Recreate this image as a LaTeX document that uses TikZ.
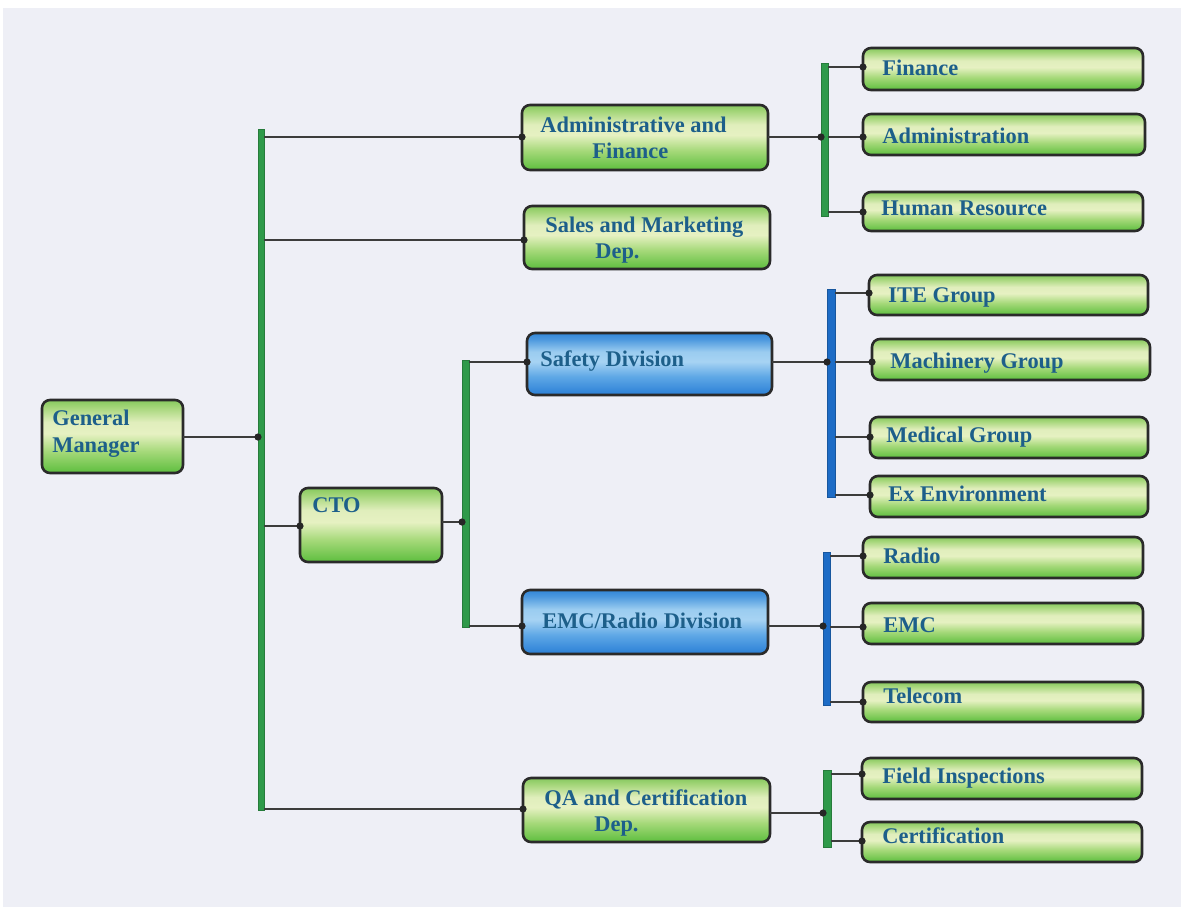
\documentclass[tikz,border=0pt]{standalone}
\usepackage{fontspec}
\setmainfont{Liberation Serif}
\usetikzlibrary{calc}
\definecolor{bgc}{HTML}{EEEFF6}
\definecolor{txtc}{HTML}{1D5F8A}
\definecolor{edgec}{HTML}{2A2A2A}
\definecolor{connc}{HTML}{3C3C3C}
\definecolor{gbarc}{HTML}{2F9A4A}
\definecolor{bbarc}{HTML}{1D6CC6}
\definecolor{gB}{HTML}{5DBE3E}
\definecolor{gM1}{HTML}{A6D97A}
\definecolor{gL}{HTML}{E6F1C2}
\definecolor{gL2}{HTML}{E0EEBC}
\definecolor{gM2}{HTML}{A5D67A}
\definecolor{gT}{HTML}{86C85E}
\definecolor{bB}{HTML}{2A7FD6}
\definecolor{bM1}{HTML}{5FA8E6}
\definecolor{bL}{HTML}{A7D3F3}
\definecolor{bL2}{HTML}{9ACCF0}
\definecolor{bM2}{HTML}{4C98DE}
\definecolor{bT}{HTML}{3286D8}
\pgfdeclareverticalshading{gshade}{100bp}{color(0bp)=(gB); color(25bp)=(gB); color(40bp)=(gM1); color(52bp)=(gL); color(60bp)=(gL2); color(70bp)=(gM2); color(75bp)=(gT); color(100bp)=(gT)}
\pgfdeclareverticalshading{bshade}{100bp}{color(0bp)=(bB); color(25bp)=(bB); color(40bp)=(bM1); color(52bp)=(bL); color(60bp)=(bL2); color(70bp)=(bM2); color(75bp)=(bT); color(100bp)=(bT)}
\tikzset{
  gbox/.style={draw=edgec, line width=1.3pt, rounded corners=4pt, shading=gshade, inner sep=0pt, outer sep=0pt},
  bbox/.style={draw=edgec, line width=1.3pt, rounded corners=4pt, shading=bshade, inner sep=0pt, outer sep=0pt},
  gbar/.style={fill=gbarc, draw=gbarc!80!black, line width=0.3pt, inner sep=0pt, outer sep=0pt},
  bbar/.style={fill=bbarc, draw=bbarc!80!black, line width=0.3pt, inner sep=0pt, outer sep=0pt},
  txt/.style={text=txtc, font=\fontsize{11.2}{13}\selectfont\bfseries, inner sep=0pt, anchor=base west},
  conn/.style={draw=connc, line width=0.75pt},
  dotc/.style={fill=black!85}
}
\newcommand\bx[6]{\node[#6, minimum width={(#4-#2)*0.5pt}, minimum height={(#5-#3)*0.5pt}] (#1) at ({(#2+#4)/2},{(#3+#5)/2}) {};}
\newcommand\tx[4]{\node[txt] (#1) at (#2,#3) {#4};}
\newcommand\cn[3]{\draw[conn] (#1 |- 0,#3) -- (#2 |- 0,#3);}
\newcommand\dt[2]{\fill[dotc] (#1 |- 0,#2) circle (1.8pt);}
\begin{document}
\begin{tikzpicture}[x=0.5pt, y=-0.5pt]
\useasboundingbox (0,0) rectangle (1181,907);
\fill[white] (0,0) rectangle (1181,907);
\fill[bgc] (3,8) rectangle (1181,907);

% bars
\bx{mainbar}{258}{129}{264}{810}{gbar}
\bx{ctobar}{462}{360}{469}{627}{gbar}
\bx{adminbar}{821}{63}{828}{216}{gbar}
\bx{safbar}{827}{289}{835}{497}{bbar}
\bx{emcbar}{823}{552}{830}{705}{bbar}
\bx{qabar}{823}{770}{831}{847}{gbar}

% boxes
\bx{gm}{42}{400}{183}{473}{gbox}
\bx{cto}{300}{488}{442}{562}{gbox}
\bx{adm}{522}{105}{768}{170}{gbox}
\bx{sales}{524}{206}{770}{269}{gbox}
\bx{saf}{527}{333}{772}{395}{bbox}
\bx{emc}{522}{590}{768}{654}{bbox}
\bx{qa}{523}{778}{770}{842}{gbox}
\bx{fin}{863}{48}{1143}{90}{gbox}
\bx{adn}{863}{114}{1145}{155}{gbox}
\bx{hr}{863}{192}{1143}{231}{gbox}
\bx{ite}{869}{275}{1148}{315}{gbox}
\bx{mach}{872}{339}{1150}{380}{gbox}
\bx{med}{870}{417}{1148}{458}{gbox}
\bx{ex}{870}{476}{1148}{517}{gbox}
\bx{radio}{863}{537}{1143}{578}{gbox}
\bx{emcg}{863}{603}{1143}{644}{gbox}
\bx{tele}{863}{682}{1143}{722}{gbox}
\bx{fi}{862}{758}{1142}{799}{gbox}
\bx{cert}{862}{822}{1142}{862}{gbox}

% texts
\tx{gm-t1}{52}{425}{General}
\tx{gm-t2}{52}{452}{Manager}
\tx{cto-t}{312}{512}{CTO}
\tx{adm-t1}{540}{132}{Administrative and}
\tx{adm-t2}{592}{158}{Finance}
\tx{sales-t1}{545}{232}{Sales and Marketing}
\tx{sales-t2}{595}{258}{Dep.}
\tx{saf-t}{540}{366}{Safety Division}
\tx{emc-t}{542}{628}{EMC/Radio Division}
\tx{qa-t1}{544}{805}{QA and Certification}
\tx{qa-t2}{594}{831}{Dep.}
\tx{fin-t}{882}{75}{Finance}
\tx{adn-t}{882}{143}{Administration}
\tx{hr-t}{881}{215}{Human Resource}
\tx{ite-t}{888}{302}{ITE Group}
\tx{mach-t}{890}{368}{Machinery Group}
\tx{med-t}{886}{442}{Medical Group}
\tx{ex-t}{888}{501}{Ex Environment}
\tx{radio-t}{883}{563}{Radio}
\tx{emcg-t}{883}{632}{EMC}
\tx{tele-t}{883}{703}{Telecom}
\tx{fi-t}{882}{783}{Field Inspections}
\tx{cert-t}{882}{843}{Certification}

% connectors
\cn{gm.east}{mainbar.west}{437}
\cn{mainbar.east}{adm.west}{137}
\cn{mainbar.east}{sales.west}{240}
\cn{mainbar.east}{cto.west}{526}
\cn{mainbar.east}{qa.west}{809}
\cn{cto.east}{ctobar.west}{522}
\cn{ctobar.east}{saf.west}{362}
\cn{ctobar.east}{emc.west}{626}
\cn{adm.east}{adminbar.west}{137}
\cn{adminbar.east}{fin.west}{67}
\cn{adminbar.east}{adn.west}{137}
\cn{adminbar.east}{hr.west}{212}
\cn{saf.east}{safbar.west}{362}
\cn{safbar.east}{ite.west}{293}
\cn{safbar.east}{mach.west}{362}
\cn{safbar.east}{med.west}{437}
\cn{safbar.east}{ex.west}{495}
\cn{emc.east}{emcbar.west}{626}
\cn{emcbar.east}{radio.west}{556}
\cn{emcbar.east}{emcg.west}{627}
\cn{emcbar.east}{tele.west}{702}
\cn{qa.east}{qabar.west}{813}
\cn{qabar.east}{fi.west}{774}
\cn{qabar.east}{cert.west}{841}

% dots
\dt{mainbar.west}{437}
\dt{adm.west}{137}
\dt{sales.west}{240}
\dt{cto.west}{526}
\dt{qa.west}{809}
\dt{ctobar.west}{522}
\dt{saf.west}{362}
\dt{emc.west}{626}
\dt{adminbar.west}{137}
\dt{fin.west}{67}
\dt{adn.west}{137}
\dt{hr.west}{212}
\dt{safbar.west}{362}
\dt{ite.west}{293}
\dt{mach.west}{362}
\dt{med.west}{437}
\dt{ex.west}{495}
\dt{emcbar.west}{626}
\dt{radio.west}{556}
\dt{emcg.west}{627}
\dt{tele.west}{702}
\dt{qabar.west}{813}
\dt{fi.west}{774}
\dt{cert.west}{841}
\end{tikzpicture}
\end{document}
